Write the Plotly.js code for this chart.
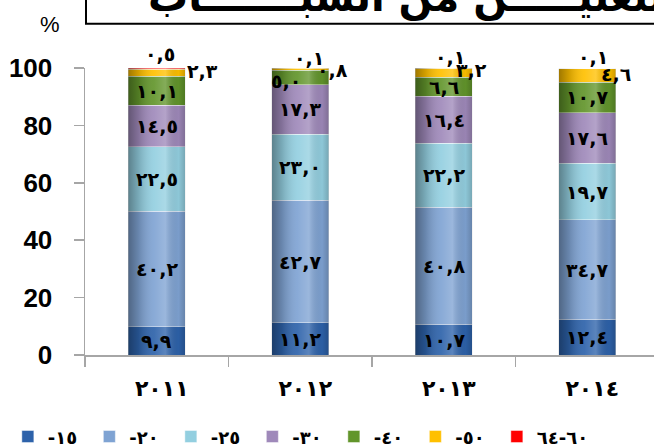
<!DOCTYPE html>
<html><head><meta charset="utf-8">
<script src="https://cdn.plot.ly/plotly-3.0.1.min.js"></script>
<style>
body{margin:0;background:#fff}
</style></head><body><div id="chart" style="width:654px;height:448px"></div>
<script>
// ---- data ----
const years = ['٢٠١١', '٢٠١٢', '٢٠١٣', '٢٠١٤'];
const groups = ['-١٥', '-٢٠', '-٢٥', '-٣٠', '-٤٠', '-٥٠', '٦٠-٦٤'];
const g15 = [9.9, 11.2, 10.7, 12.4];
const g20 = [40.2, 42.7, 40.8, 34.7];
const g25 = [22.5, 23.0, 22.2, 19.7];
const g30 = [14.5, 17.3, 16.4, 17.6];
const g40 = [10.1, 5.0, 6.6, 10.7];
const g50 = [2.3, 0.8, 3.2, 4.6];
const g60 = [0.5, 0.1, 0.1, 0.1];
const yTicks = [0, 20, 40, 60, 80, 100];
const titleText = 'التوزيع النسبي للفئات العمرية في المشتغليـــــن من الشبـــــــاب';

// ---- styling ----
const series = [g15, g20, g25, g30, g40, g50, g60];
const colors = ['#2D62AA', '#7FA3D3', '#93CFE0', '#9F89BA', '#62952B', '#FFC000', '#FF0000'];
// label offsets (pixels) for thin segments: key "year,series" -> [xshift, yshift]
const labelShift = {
  '0,5': [46, 2], '0,6': [3, 15],
  '1,4': [-14, -4], '1,5': [32, -1], '1,6': [9, 10],
  '2,5': [28, 3], '2,6': [6, 11],
  '3,5': [29, 1], '3,6': [6, 12]
};
const AR = '٠١٢٣٤٥٦٧٨٩';
const toAr = v => v.toFixed(1).replace('.', ',').replace(/[0-9]/g, d => AR[+d]);
const yMax = 100;
const pxPerUnit = 288.5 / yMax;

const traces = series.map((vals, k) => ({
  type: 'bar', name: groups[k], x: years, y: vals,
  marker: {color: colors[k], line: {color: 'rgba(255,255,255,0.55)', width: 0.8}},
  hoverinfo: 'skip', textposition: 'none'
}));

const annotations = [];
years.forEach((yr, i) => {
  let cum = 0;
  series.forEach((vals, k) => {
    const v = vals[i];
    const mid = cum + v / 2;
    cum += v;
    const sh = labelShift[i + ',' + k] || [0, 0];
    const anchorY = Math.min(mid, yMax - 0.01);   // annotations outside the axis range are hidden
    annotations.push({
      x: yr, y: anchorY, xref: 'x', yref: 'y', text: toAr(v), showarrow: false,
      xshift: sh[0], yshift: sh[1] + (mid - anchorY) * pxPerUnit,
      font: {family: 'DejaVu Sans', size: 19, color: '#000', weight: 'bold'}
    });
  });
});
const nLabels = annotations.length;
annotations.push({
  xref: 'paper', yref: 'paper', x: (146 - 85) / 569, y: 1.244, xanchor: 'left', yanchor: 'middle',
  text: titleText, showarrow: false,
  font: {family: 'DejaVu Sans', size: 40, color: '#000', weight: 'bold'}
});
annotations.push({
  xref: 'paper', yref: 'paper', x: (50 - 85) / 569, y: 1.151, xanchor: 'center', yanchor: 'middle',
  text: '%', showarrow: false,
  font: {family: 'Liberation Sans', size: 22, color: '#000'}
});

const grad = "data:image/svg+xml;utf8," + encodeURIComponent(
  "<svg xmlns='http://www.w3.org/2000/svg' width='100' height='100' preserveAspectRatio='none'>" +
  "<defs><linearGradient id='g' x1='0' x2='1' y1='0' y2='0'>" +
  "<stop offset='0' stop-color='#000' stop-opacity='0.38'/>" +
  "<stop offset='0.18' stop-color='#000' stop-opacity='0.18'/>" +
  "<stop offset='0.45' stop-color='#fff' stop-opacity='0.08'/>" +
  "<stop offset='0.65' stop-color='#fff' stop-opacity='0.22'/>" +
  "<stop offset='0.88' stop-color='#000' stop-opacity='0.04'/>" +
  "<stop offset='1' stop-color='#000' stop-opacity='0.2'/>" +
  "</linearGradient></defs><rect width='100' height='100' fill='url(#g)'/></svg>");
const barWidth = 0.4;
const images = years.map((yr, i) => {
  const tot = series.reduce((s, vals) => s + vals[i], 0);
  return {source: grad, xref: 'x', yref: 'y', x: i - barWidth / 2, y: tot, sizex: barWidth, sizey: tot,
    xanchor: 'left', yanchor: 'top', sizing: 'stretch', layer: 'above'};
});

const layout = {
  width: 654, height: 448, autosize: false,
  margin: {l: 85, r: 0, t: 67.5, b: 92.5, pad: 0},
  paper_bgcolor: '#fff', plot_bgcolor: '#fff',
  barmode: 'stack', bargap: 1 - barWidth,
  showlegend: true,
  legend: {orientation: 'h', xref: 'container', yref: 'container', x: 0.012, y: 0.025,
    xanchor: 'left', yanchor: 'middle', entrywidth: 36.5, entrywidthmode: 'pixels', traceorder: 'normal',
    font: {family: 'DejaVu Sans', size: 18, color: '#000', weight: 'bold'}},
  xaxis: {type: 'category', range: [-0.5, 3.465], tickson: 'boundaries', ticks: 'outside', ticklen: 10,
    tickcolor: '#A6A6A6', tickwidth: 1.5, showline: true, linecolor: '#A6A6A6', linewidth: 1.5,
    showgrid: false, zeroline: false, ticklabelstandoff: 13,
    tickfont: {family: 'DejaVu Sans', size: 22, color: '#000', weight: 'bold'}},
  yaxis: {range: [0, yMax], tickvals: yTicks, ticktext: yTicks.map(String), ticks: 'outside', ticklen: 10,
    tickcolor: '#A6A6A6', tickwidth: 1.5, showline: true, linecolor: '#A6A6A6', linewidth: 1.5,
    showgrid: false, zeroline: false, ticklabelstandoff: 16,
    tickfont: {family: 'Liberation Sans', size: 26, color: '#000', weight: 'bold'}},
  shapes: [{type: 'rect', xref: 'paper', yref: 'paper', x0: (86 - 85) / 569, x1: 1.05, y0: (356 - 23) / 288.5, y1: 1.4,
    line: {color: '#000', width: 2}, fillcolor: 'rgba(0,0,0,0)', layer: 'above'}],
  annotations: annotations,
  images: images
};

Plotly.newPlot('chart', traces, layout, {staticPlot: true}).then(() => {
  document.querySelectorAll('#chart g.annotation').forEach(g => {
    const idx = +g.getAttribute('data-index');
    if (idx < nLabels) g.querySelectorAll('text').forEach(t => t.style.letterSpacing = '5px');
  });
  // wider digit spacing on the year labels, as in the reference
  document.querySelectorAll('#chart g.xtick text').forEach(t => {
    t.style.letterSpacing = '10px';
    t.setAttribute('dx', '5');
  });
  // let the last legend entry's text run past its fixed entry width
  document.querySelectorAll('#chart .legend [clip-path]').forEach(el => el.removeAttribute('clip-path'));
});
</script></body></html>
